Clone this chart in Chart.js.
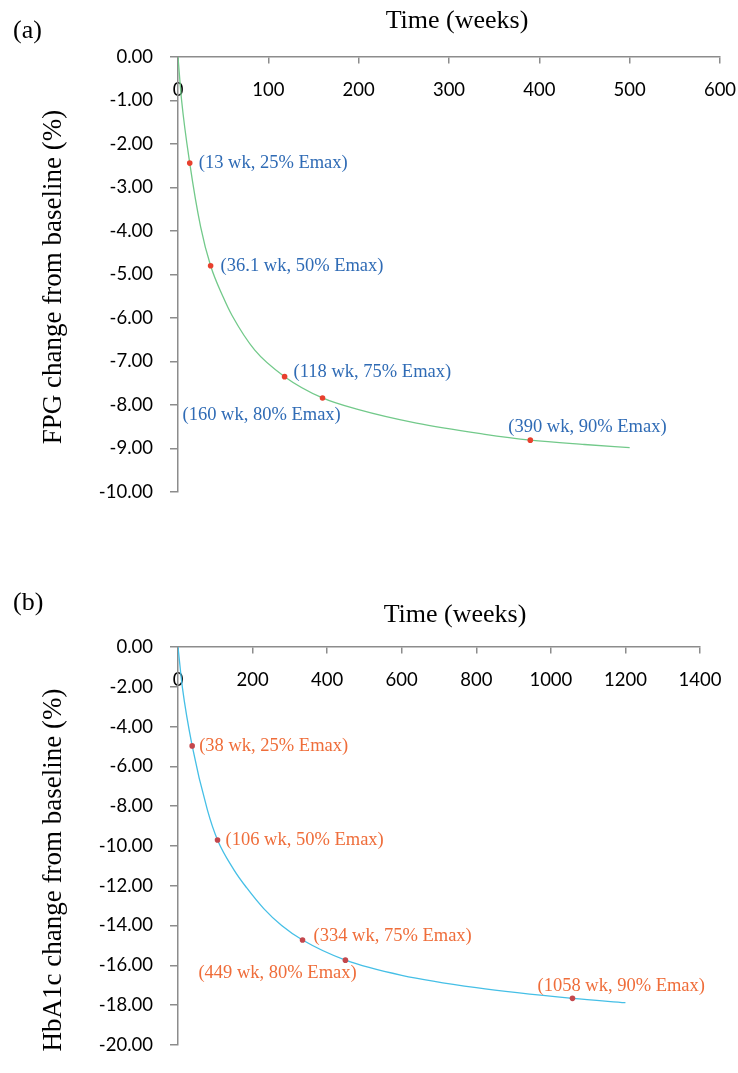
<!DOCTYPE html>
<html>
<head>
<meta charset="utf-8">
<script src="https://cdn.jsdelivr.net/npm/chart.js@4.4.1/dist/chart.umd.min.js"></script>
<style>
  html, body { margin: 0; padding: 0; background: #fff; }
  body { width: 738px; height: 1073px; position: relative; overflow: hidden; }
  .box { position: absolute; left: 0; width: 738px; }
  #boxA { top: 0; height: 520px; }
  #boxB { top: 560px; height: 513px; }
</style>
</head>
<body>
<div class="box" id="boxA"><canvas id="chartA"></canvas></div>
<div class="box" id="boxB"><canvas id="chartB"></canvas></div>
<script>
// (a) FPG - kurva yang dibaca dari gambar
const fpgWeeks  = [0, 4, 13, 25, 36.1, 50, 60, 85, 118, 160, 200, 264, 338, 390, 450, 500];
const fpgChange = [0, -1.0, -2.44, -3.9, -4.80, -5.52, -5.95, -6.74, -7.35, -7.84, -8.11, -8.42, -8.67, -8.81, -8.91, -8.98];
// titik-titik Emax yang ditandai
const fpgMarkWeeks  = [13, 36.1, 118, 160, 390];
const fpgMarkChange = [-2.44, -4.80, -7.35, -7.84, -8.81];
const fpgMarkLabels = ['(13 wk, 25% Emax)', '(36.1 wk, 50% Emax)', '(118 wk, 75% Emax)', '(160 wk, 80% Emax)', '(390 wk, 90% Emax)'];

// (b) HbA1c
const hbaWeeks  = [0, 12, 38, 79, 106, 150, 184, 230, 278, 334, 449, 600, 800, 1058, 1200];
const hbaChange = [0, -2.07, -4.97, -8.2, -9.7, -11.2, -12.1, -13.15, -14.0, -14.73, -15.74, -16.5, -17.12, -17.66, -17.88];
const hbaMarkWeeks  = [38, 106, 334, 449, 1058];
const hbaMarkChange = [-4.97, -9.7, -14.73, -15.74, -17.66];
const hbaMarkLabels = ['(38 wk, 25% Emax)', '(106 wk, 50% Emax)', '(334 wk, 75% Emax)', '(449 wk, 80% Emax)', '(1058 wk, 90% Emax)'];

const axisGray = '#8c8c8c';
const tickFont = { family: 'Lato, "Open Sans", sans-serif', size: 18.5 };
const serif = '"Liberation Serif", "Times New Roman", serif';

function toPoints(xs, ys) {
    return xs.map((x, i) => ({ x: x, y: ys[i] }));
}

// Plugin untuk huruf panel, judul sumbu dan label anotasi
function makeTextPlugin(cfg) {
    return {
        id: 'panelText' + cfg.letter,
        afterDraw(chart) {
            const ctx = chart.ctx;
            const xs = chart.scales.x, ys = chart.scales.y;
            ctx.save();
            ctx.fillStyle = '#000';
            ctx.textBaseline = 'middle';
            ctx.font = '26px ' + serif;
            ctx.textAlign = 'left';
            ctx.fillText(cfg.letter, 13, cfg.letterY);
            ctx.textAlign = 'center';
            ctx.fillText('Time (weeks)', cfg.titleX, cfg.titleY);

            // judul sumbu Y (diputar)
            ctx.save();
            ctx.font = '27px ' + serif;
            ctx.translate(54, cfg.yTitleY);
            ctx.rotate(-Math.PI / 2);
            ctx.fillText(cfg.yTitle, 0, 0);
            ctx.restore();

            ctx.font = '18.5px ' + serif;
            ctx.fillStyle = cfg.labelColor;
            ctx.textAlign = 'left';
            cfg.weeks.forEach((w, i) => {
                const px = xs.getPixelForValue(w) + cfg.offsets[i][0];
                const py = ys.getPixelForValue(cfg.values[i]) + cfg.offsets[i][1];
                ctx.fillText(cfg.labels[i], px, py);
            });
            ctx.restore();
        }
    };
}

function buildChart(canvasId, opt) {
    const ctx = document.getElementById(canvasId).getContext('2d');
    return new Chart(ctx, {
        type: 'scatter',
        data: {
            datasets: [{
                // titik merah digambar di atas garis
                data: toPoints(opt.markX, opt.markY),
                showLine: false,
                pointRadius: 2.8,
                pointBackgroundColor: opt.markColor,
                pointBorderColor: opt.markColor,
                pointBorderWidth: 0
            }, {
                data: toPoints(opt.curveX, opt.curveY),
                showLine: true,
                borderColor: opt.lineColor,
                borderWidth: 1.3,
                pointRadius: 0,
                cubicInterpolationMode: 'monotone'
            }]
        },
        options: {
            responsive: true,
            maintainAspectRatio: false,
            animation: false,
            layout: { padding: opt.padding },
            plugins: { legend: { display: false }, tooltip: { enabled: false } },
            scales: {
                x: {
                    type: 'linear',
                    axis: 'x',
                    position: { y: 0 },
                    min: 0,
                    max: opt.xMax,
                    ticks: { stepSize: opt.xStep, color: '#000', font: tickFont, padding: 16, callback: v => String(v) },
                    grid: { drawOnChartArea: false, tickLength: 6, color: axisGray, lineWidth: 1.5 },
                    border: { color: axisGray, width: 1.5 },
                    afterFit(scale) { scale.paddingLeft = 0; scale.paddingRight = 0; }
                },
                y: {
                    type: 'linear',
                    position: 'left',
                    min: opt.yMin,
                    max: 0,
                    ticks: {
                        stepSize: opt.yStep,
                        color: '#000',
                        font: tickFont,
                        padding: 17,
                        callback: v => v.toFixed(2)
                    },
                    grid: { drawOnChartArea: false, tickLength: 8, color: axisGray, lineWidth: 1.5 },
                    border: { color: axisGray, width: 1.5 },
                    afterFit(scale) { scale.width = 178; }
                }
            }
        },
        plugins: [makeTextPlugin(opt.text)]
    });
}

window.onload = () => {
    buildChart('chartA', {
        curveX: fpgWeeks, curveY: fpgChange,
        markX: fpgMarkWeeks, markY: fpgMarkChange,
        lineColor: '#72c98a', markColor: '#e8402e',
        xMax: 600, xStep: 100, yMin: -10, yStep: 1,
        padding: { left: 0, top: 57, right: 18, bottom: 28 },
        text: {
            letter: '(a)', letterY: 31, titleX: 457, titleY: 21.5,
            yTitle: 'FPG change from baseline (%)', yTitleY: 277,
            labelColor: '#2f6bb5',
            weeks: fpgMarkWeeks, values: fpgMarkChange, labels: fpgMarkLabels,
            offsets: [[9, 0], [10, 0], [9, -5], [-140, 17], [-22, -13]]
        }
    });

    buildChart('chartB', {
        curveX: hbaWeeks, curveY: hbaChange,
        markX: hbaMarkWeeks, markY: hbaMarkChange,
        lineColor: '#45bfe6', markColor: '#c4474c',
        xMax: 1400, xStep: 200, yMin: -20, yStep: 2,
        padding: { left: 0, top: 87, right: 38, bottom: 10 },
        text: {
            letter: '(b)', letterY: 43, titleX: 455, titleY: 55,
            yTitle: 'HbA1c change from baseline (%)', yTitleY: 310,
            labelColor: '#ef6d3a',
            weeks: hbaMarkWeeks, values: hbaMarkChange, labels: hbaMarkLabels,
            offsets: [[7, 0], [8, 0], [11, -4], [-147, 13], [-35, -12.5]]
        }
    });
};
</script>
</body>
</html>
